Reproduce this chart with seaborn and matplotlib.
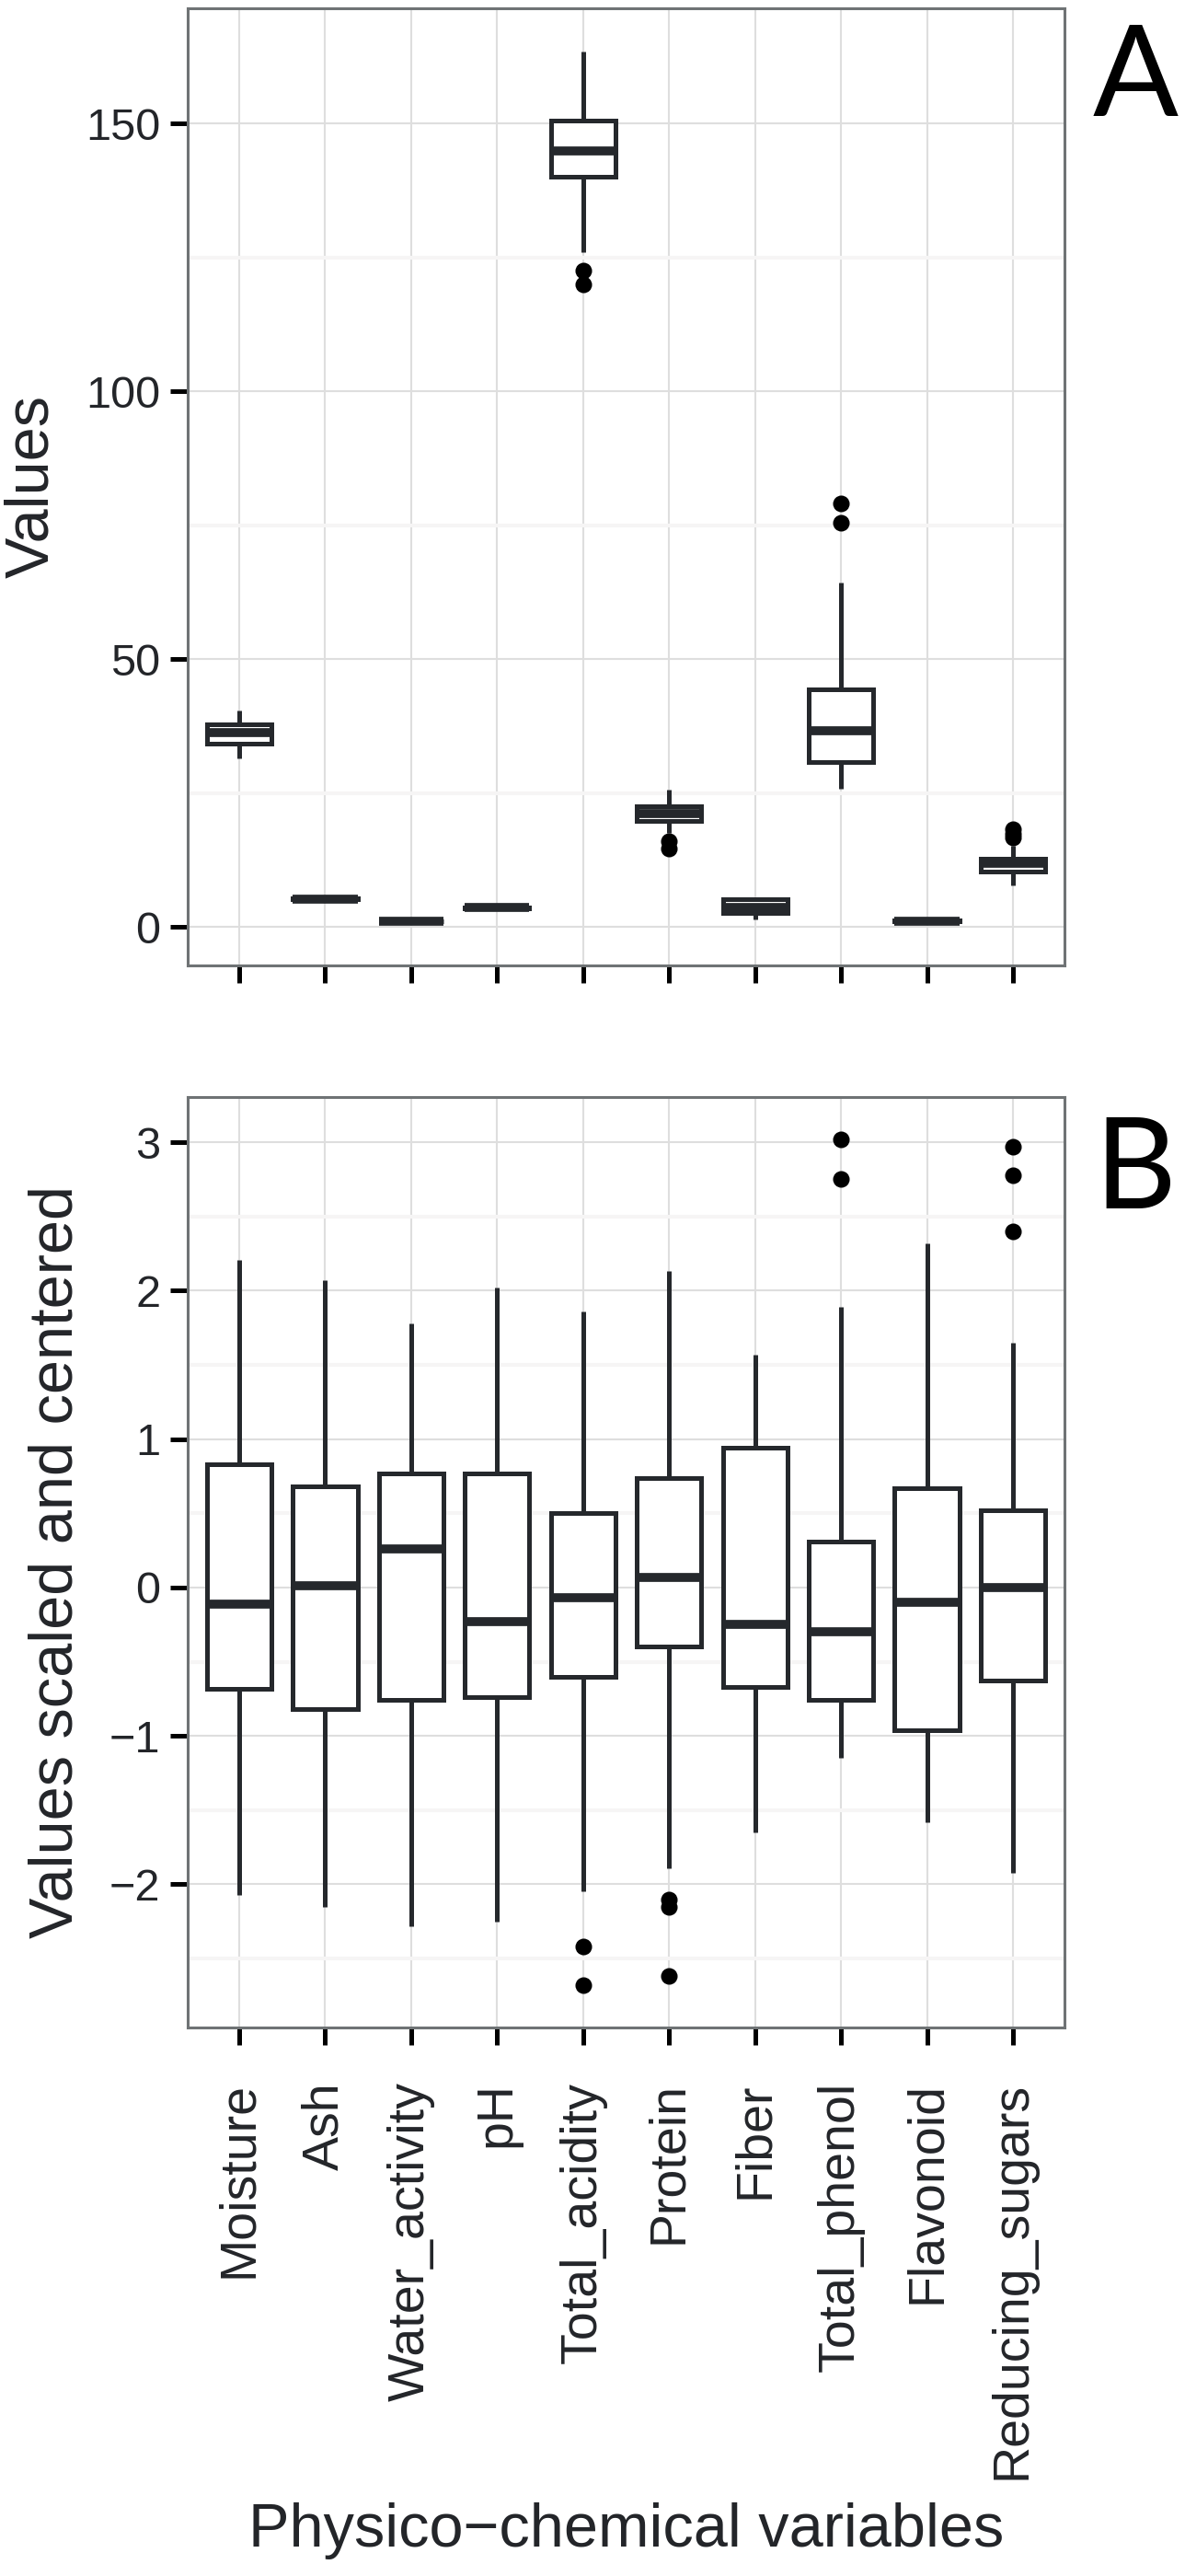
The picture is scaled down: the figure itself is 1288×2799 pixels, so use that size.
import numpy as np
import pandas as pd
import matplotlib
matplotlib.use("Agg")
import matplotlib.pyplot as plt
import seaborn as sns
from matplotlib.ticker import MultipleLocator

# ---------------- data ----------------
variables = ["Moisture", "Ash", "Water_activity", "pH", "Total_acidity",
             "Protein", "Fiber", "Total_phenol", "Flavonoid", "Reducing_sugars"]

# Panel A: raw values (five-number summaries)
raw_low = [31.4, 4.9, 0.93, 3.3, 125.9, 17.6, 1.4, 25.8, 0.92, 7.7]
raw_q1 = [34.2, 5.1, 0.96, 3.5, 140.0, 19.7, 2.6, 30.7, 1.0, 10.4]
raw_med = [36.2, 5.2, 0.97, 3.6, 144.9, 21.2, 3.7, 36.7, 1.1, 11.8]
raw_q3 = [37.8, 5.3, 0.98, 3.7, 150.5, 22.6, 5.2, 44.3, 1.2, 12.8]
raw_high = [40.4, 5.5, 0.99, 3.9, 163.4, 25.6, 5.5, 64.3, 1.4, 15.2]
raw_out_var = ["Total_acidity", "Total_acidity", "Protein", "Protein",
               "Total_phenol", "Total_phenol",
               "Reducing_sugars", "Reducing_sugars", "Reducing_sugars"]
raw_out_val = [122.5, 119.9, 16.0, 14.6, 75.4, 79.0, 18.2, 17.4, 16.6]
raw_ticks = [0, 50, 100, 150]

# Panel B: scaled and centered values
sc_low = [-2.07, -2.15, -2.28, -2.25, -2.05, -1.89, -1.65, -1.15, -1.58, -1.92]
sc_q1 = [-0.68, -0.82, -0.76, -0.74, -0.60, -0.40, -0.67, -0.76, -0.96, -0.63]
sc_med = [-0.11, 0.01, 0.26, -0.23, -0.07, 0.07, -0.25, -0.30, -0.10, 0.00]
sc_q3 = [0.83, 0.68, 0.77, 0.77, 0.50, 0.74, 0.94, 0.31, 0.67, 0.52]
sc_high = [2.21, 2.07, 1.78, 2.02, 1.86, 2.13, 1.57, 1.89, 2.32, 1.65]
sc_out_var = ["Total_acidity", "Total_acidity", "Protein", "Protein", "Protein",
              "Total_phenol", "Total_phenol",
              "Reducing_sugars", "Reducing_sugars", "Reducing_sugars"]
sc_out_val = [-2.42, -2.68, -2.10, -2.15, -2.62, 3.02, 2.75, 2.97, 2.78, 2.40]
sc_ticks = [-2, -1, 0, 1, 2, 3]

# ---------------- style ----------------
sns.set_style("ticks")
plt.rcParams["font.family"] = ["Liberation Sans", "DejaVu Sans"]

TEXT = "#232529"
LINE = "#25282c"
FRAME = "#6f7375"

DPI = 100
W, H = 1288, 2799
fig = plt.figure(figsize=(W / DPI, H / DPI), dpi=DPI)
fig.patch.set_facecolor("white")


def build_long(low, q1, med, q3, high):
    rows = []
    for i, v in enumerate(variables):
        for val in (low[i], q1[i], med[i], q3[i], high[i]):
            rows.append((v, val))
    return pd.DataFrame(rows, columns=["variable", "value"])


def panel(rect, low, q1, med, q3, high, out_var, out_val, ticks, minor_step,
          ylabel, show_xlabels):
    ax = fig.add_axes(rect)
    df = build_long(low, q1, med, q3, high)
    sns.boxplot(data=df, x="variable", y="value", order=variables, ax=ax,
                whis=(0, 100), width=0.75, color="white", linecolor=LINE,
                linewidth=3.6, saturation=1, showfliers=False,
                medianprops={"linewidth": 7.0, "color": LINE},
                capprops={"linewidth": 0},
                boxprops={"joinstyle": "miter"})
    odf = pd.DataFrame({"variable": out_var, "value": out_val})
    sns.stripplot(data=odf, x="variable", y="value", order=variables, ax=ax,
                  jitter=False, color="black", size=13, linewidth=0, zorder=5)

    allv = list(low) + list(high) + list(out_val)
    lo, hi = min(allv), max(allv)
    pad = 0.05 * (hi - lo)
    ax.set_ylim(lo - pad, hi + pad)
    ax.set_xlim(-0.6, len(variables) - 0.4)

    ax.set_yticks(ticks)
    ax.yaxis.set_minor_locator(MultipleLocator(minor_step))
    ax.set_axisbelow(True)
    ax.grid(True, which="major", axis="both", color="#dedede", linewidth=1.5)
    ax.grid(True, which="minor", axis="y", color="#f6f5f5", linewidth=3.0)
    ax.xaxis.grid(True, which="major", color="#dedede", linewidth=1.5)

    for s in ax.spines.values():
        s.set_visible(True)
        s.set_color(FRAME)
        s.set_linewidth(2.2)

    ax.tick_params(axis="both", which="major", direction="out", length=13.5,
                   width=3.6, color="black", bottom=True, left=True,
                   top=False, right=False)
    ax.tick_params(axis="y", which="minor", length=0, left=False)
    ax.tick_params(axis="y", labelsize=35, labelcolor=TEXT, pad=8)
    ax.set_yticklabels([f"{t:g}".replace("-", "\u2212") for t in ticks])
    ax.set_ylabel(ylabel, fontsize=48, color=TEXT, labelpad=19)
    if show_xlabels:
        ax.tick_params(axis="x", labelsize=40, labelcolor=TEXT, pad=29)
        plt.setp(ax.get_xticklabels(), rotation=90, va="top", ha="center")
        ax.set_xlabel("Physico\u2212chemical variables", fontsize=48,
                      color=TEXT, labelpad=18)
    else:
        ax.set_xticklabels([])
        ax.set_xlabel("")
    return ax


axA = panel([204 / W, 1 - 1049 / H, 953 / W, 1040 / H],
            raw_low, raw_q1, raw_med, raw_q3, raw_high,
            raw_out_var, raw_out_val, raw_ticks, 25, "Values", False)
axB = panel([204 / W, 1 - 2203 / H, 953 / W, 1011 / H],
            sc_low, sc_q1, sc_med, sc_q3, sc_high,
            sc_out_var, sc_out_val, sc_ticks, 0.5,
            "Values scaled and centered", True)

fig.text(1234 / W, 1 - 126 / H, "A", fontsize=99, ha="center",
         va="baseline", color="black", family=["Lato", "DejaVu Sans"])
fig.text(1234 / W, 1 - 1313 / H, "B", fontsize=99, ha="center",
         va="baseline", color="black", family=["Lato", "DejaVu Sans"])

fig.savefig("out.png", dpi=DPI, facecolor="white")
